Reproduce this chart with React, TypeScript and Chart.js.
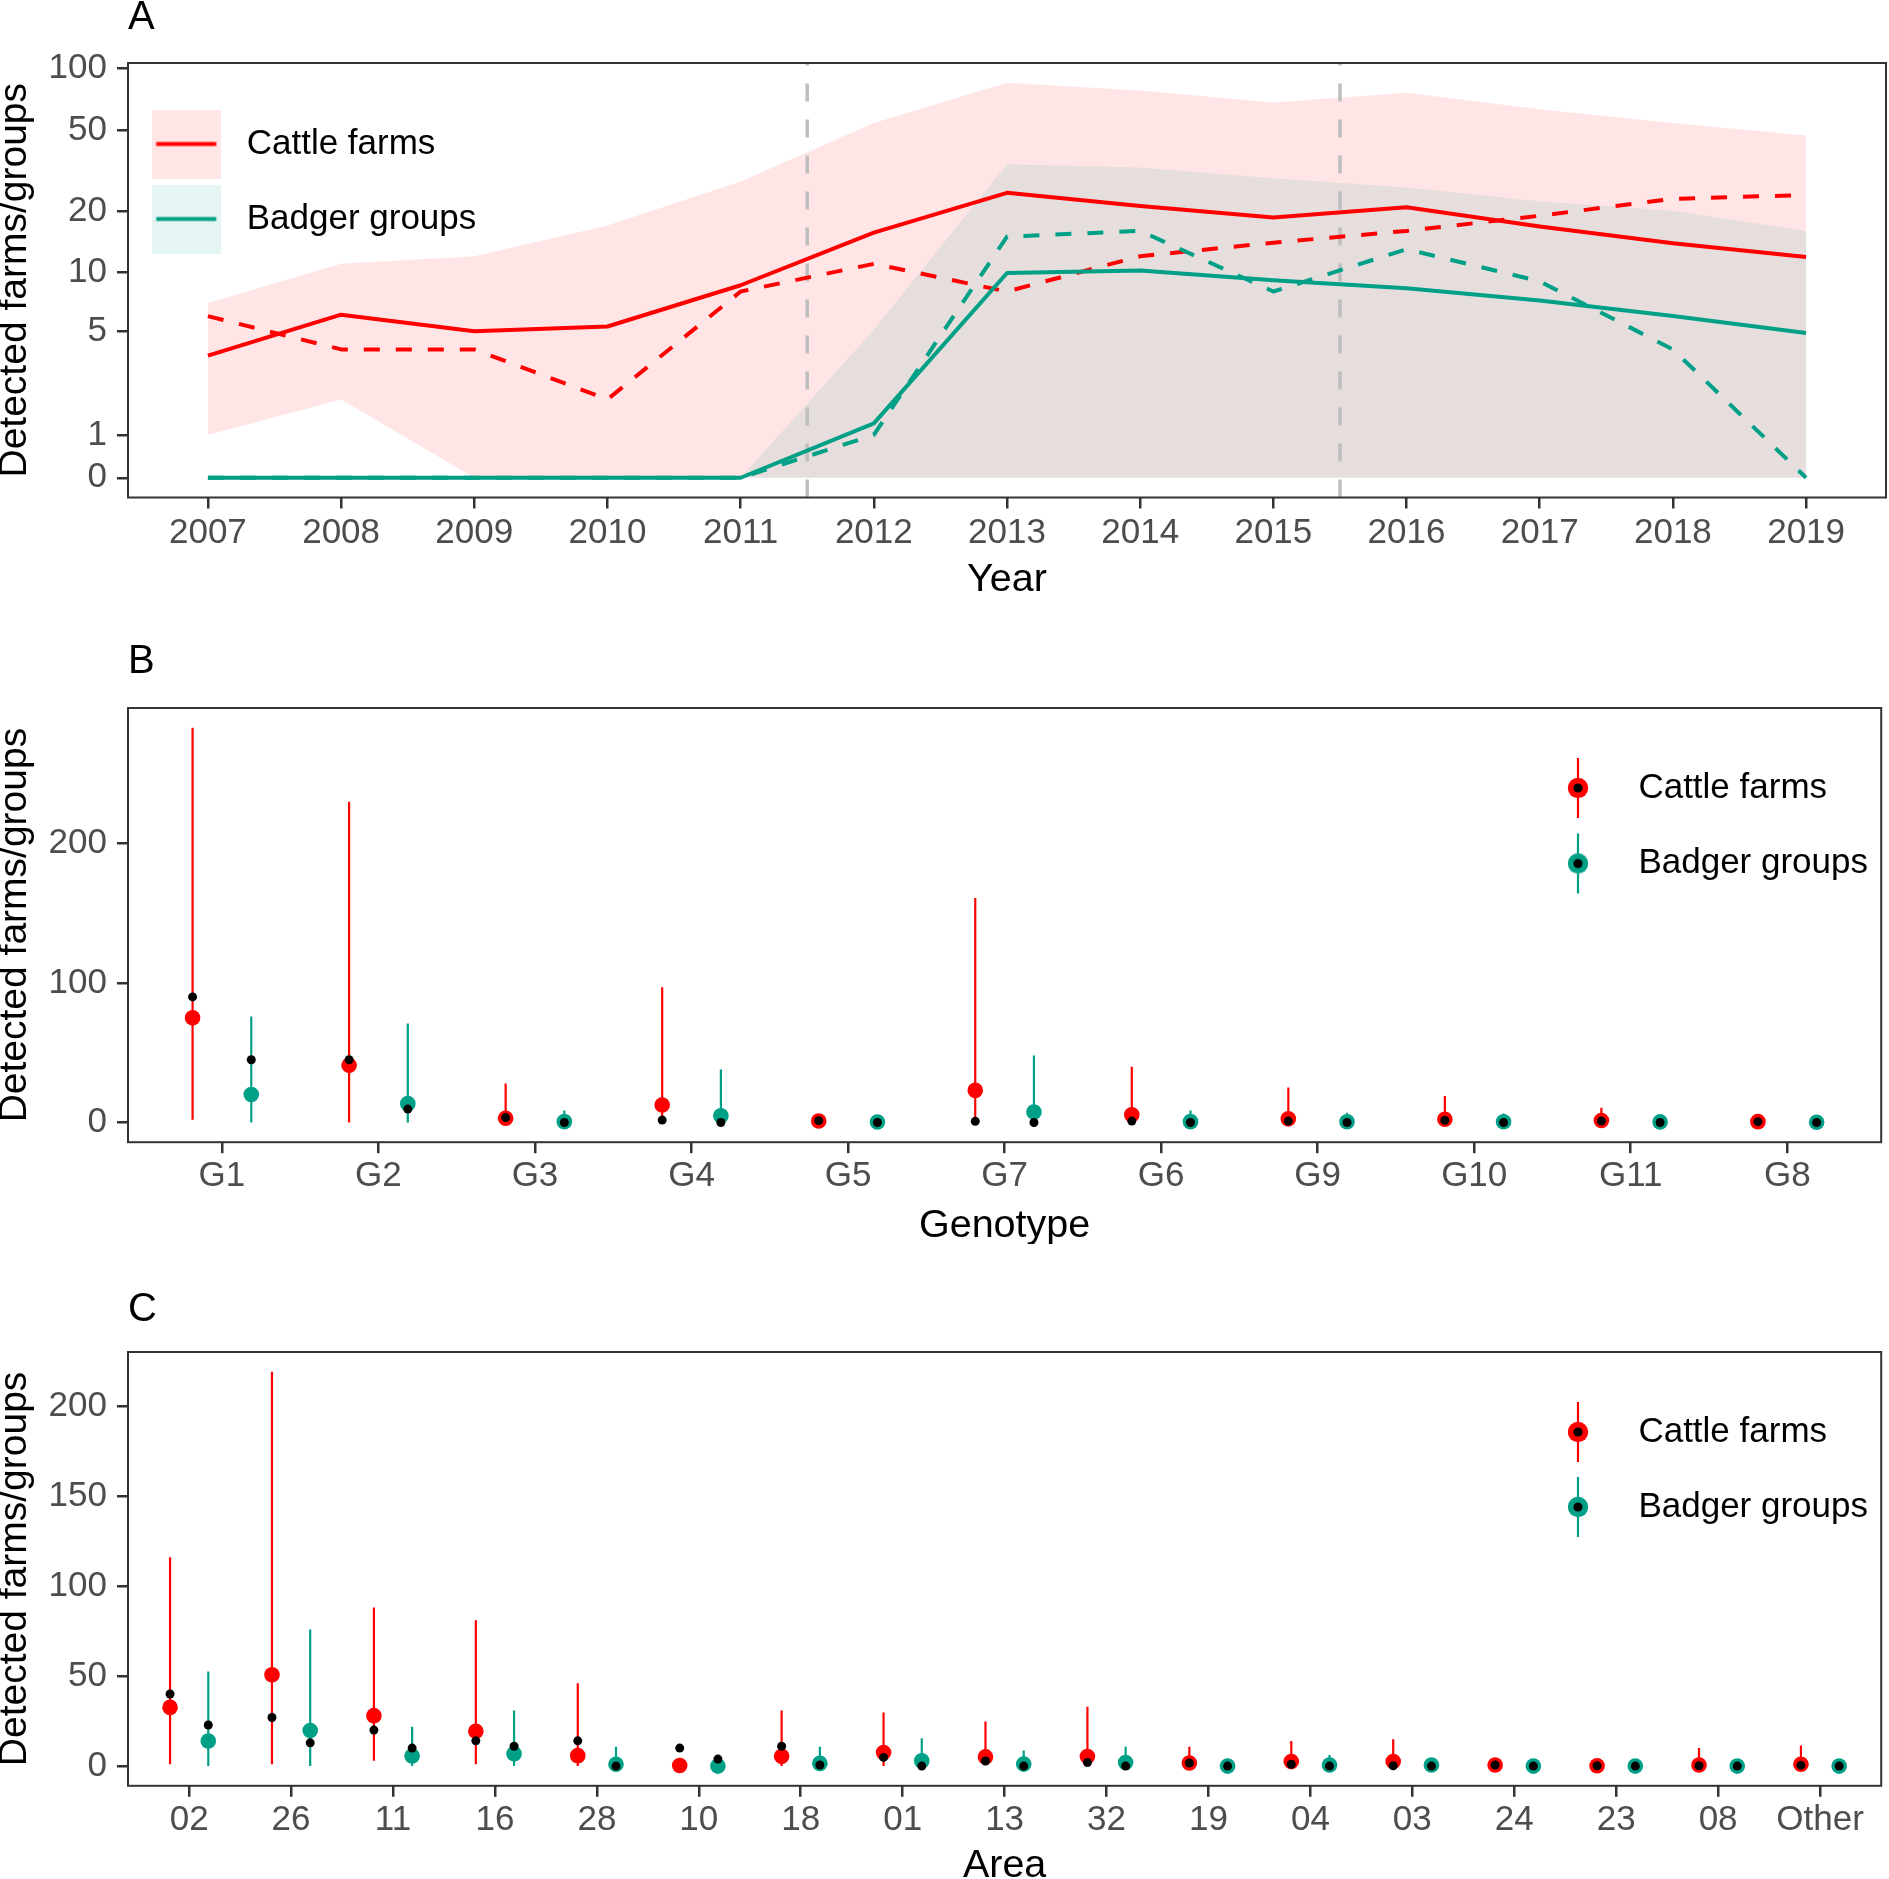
import React, { useEffect, useRef } from 'react';
import { Chart, registerables } from 'chart.js';

Chart.register(...registerables);

const FONT = "'Liberation Sans', Arial, Helvetica, sans-serif";
Chart.defaults.font.family = FONT;

const RED = '#FF0000';
const TEAL = '#00A087';
const RED_FILL = 'rgba(255,0,0,0.1)';
const TEAL_FILL = 'rgba(0,160,135,0.1)';
const FRAME = '#333333';
const TICK_TEXT = '#4D4D4D';
const VLINE = '#BEBEBE';

// ---------------- Panel A data ----------------
const years = [2007, 2008, 2009, 2010, 2011, 2012, 2013, 2014, 2015, 2016, 2017, 2018, 2019];
const cattleModel = [3.7, 6.1, 5.0, 5.3, 8.6, 15.7, 24.6, 21.2, 18.6, 20.9, 16.8, 13.9, 11.9];
const cattleObserved = [6, 4, 4, 2, 8, 11, 8, 12, 14, 16, 19, 23, 24];
const cattleUpper = [7, 11, 12, 17, 28, 54, 85, 78, 68, 76, 63, 54, 47];
const cattleLower = [1, 2, 0, 0, 0, 0, 0, 0, 0, 0, 0, 0, 0];
const badgerModel = [0, 0, 0, 0, 0, 1.3, 9.9, 10.2, 9.1, 8.3, 7.2, 6.0, 4.9];
const badgerObserved = [0, 0, 0, 0, 0, 1, 15, 16, 8, 13, 9, 4, 0];
const badgerUpper = [0, 0, 0, 0, 0, 5.1, 34, 32.7, 29, 26.1, 22.4, 20.1, 16];
const badgerLower = [0, 0, 0, 0, 0, 0, 0, 0, 0, 0, 0, 0, 0];
const yTicksA = [0, 1, 5, 10, 20, 50, 100];
const periodBreaks = [2011.5, 2015.5];

// ---------------- Panel B data ----------------
const genotypes = ['G1', 'G2', 'G3', 'G4', 'G5', 'G7', 'G6', 'G9', 'G10', 'G11', 'G8'];
const cattleMeanB = [75, 41, 3, 12.5, 1, 23, 5.5, 2.6, 2.3, 1.4, 0.6];
const cattleLowB = [2, 0, 1.5, 1.5, 0.6, 1, 1, 0.8, 0.8, 0.6, 0.6];
const cattleHighB = [283, 230, 28, 97, 1.5, 161, 40, 25, 19, 10.5, 1];
const cattleObsB = [90, 45, 3.5, 1.7, 1.3, 0.8, 1, 1, 1.5, 1, 0.6];
const badgerMeanB = [20, 13.5, 0.6, 4.8, 0.3, 7.5, 0.6, 0.5, 0.5, 0.4, 0.2];
const badgerLowB = [0, 0, 0, 0, 0, 0, 0, 0, 0, 0, 0];
const badgerHighB = [76, 71, 8.5, 38, 1, 48, 8.5, 7, 6.5, 2, 0.5];
const badgerObsB = [45, 9.6, 0, 0, 0, 0, 0, 0, 0, 0, 0];
const yTicksB = [0, 100, 200];

// ---------------- Panel C data ----------------
const areas = ['02', '26', '11', '16', '28', '10', '18', '01', '13', '32', '19', '04', '03', '24', '23', '08', 'Other'];
const cattleMeanC = [32.6, 50.7, 28, 19.3, 5.8, 0.3, 5.4, 7.5, 5.1, 5.3, 1.7, 2.5, 2.5, 0.6, 0.2, 0.6, 1];
const cattleLowC = [1, 1, 3, 1, 0, 0, 0, 0, 0.5, 0.5, 0.5, 0, 0, 0.3, 0, 0, 0];
const cattleHighC = [116, 219, 88, 81, 46, 0.5, 30.8, 29.7, 24.8, 33, 10.8, 13.9, 14.9, 1, 0.3, 10, 11.4];
const cattleObsC = [40, 27, 20, 14, 14, 10, 11, 4.8, 2.8, 2, 1.7, 1, 0.2, 0.6, 0.2, 0.2, 0.4];
const badgerMeanC = [13.9, 19.7, 5.6, 6.9, 1, 0, 1.5, 2.9, 1.1, 2, 0, 0.6, 0.6, 0, 0, 0, 0];
const badgerLowC = [0, 0, 0, 0, 0, 0, 0, 0, 0, 0, 0, 0, 0, 0, 0, 0, 0];
const badgerHighC = [52.5, 75.8, 21.8, 30.8, 10.8, 0, 10.7, 15.5, 8.7, 10.7, 0, 6.2, 4, 0, 0, 0, 0];
const badgerObsC = [22.8, 12.9, 10, 11, 0, 3.9, 0.6, 0, 0, 0, 0, 0, 0, 0, 0, 0, 0];
const yTicksC = [0, 50, 100, 150, 200];

const seriesNames = ['Cattle farms', 'Badger groups'];

// ---------------- helpers ----------------
const pseudoLog = (v: number) => Math.asinh(v / 2);
const DODGE = 0.1875;

const tickFont = { family: FONT, size: 35 };
const legendFont = { family: FONT, size: 35 };
const AXIS_TITLE_SIZE = 39.5;

function ribbonKey(color: string, fill: string) {
  const c = document.createElement('canvas');
  c.width = 69;
  c.height = 69;
  const g = c.getContext('2d')!;
  g.fillStyle = fill;
  g.fillRect(0, 0, 69, 69);
  g.strokeStyle = color;
  g.lineWidth = 4;
  g.beginPath();
  g.moveTo(4.5, 34.5);
  g.lineTo(64.5, 34.5);
  g.stroke();
  return c;
}

function pointrangeKey(color: string) {
  const c = document.createElement('canvas');
  c.width = 24;
  c.height = 62;
  const g = c.getContext('2d')!;
  g.strokeStyle = color;
  g.lineWidth = 2.2;
  g.beginPath();
  g.moveTo(12, 1);
  g.lineTo(12, 61);
  g.stroke();
  g.fillStyle = color;
  g.beginPath();
  g.arc(12, 31, 10.2, 0, Math.PI * 2);
  g.fill();
  g.fillStyle = '#000';
  g.beginPath();
  g.arc(12, 31, 4.6, 0, Math.PI * 2);
  g.fill();
  return c;
}

const framePlugin = {
  id: 'panelFrame',
  afterDatasetsDraw(chart: any) {
    const { ctx, chartArea: a } = chart;
    ctx.save();
    ctx.strokeStyle = FRAME;
    ctx.lineWidth = 2;
    ctx.strokeRect(a.left, a.top, a.right - a.left, a.bottom - a.top);
    ctx.restore();
  },
};

function legendPlacer(left: number, top: number) {
  return {
    id: 'legendPlacer',
    afterLayout(chart: any) {
      const lg = chart.legend;
      if (!lg) return;
      lg.left = left;
      lg.top = top;
      lg.right = chart.width;
      lg.bottom = chart.height;
      lg.width = lg.right - left;
      lg.height = lg.bottom - top;
    },
  };
}

function axisGrid() {
  return {
    display: true,
    drawOnChartArea: false,
    drawTicks: true,
    tickLength: 11,
    lineWidth: 2.5,
    tickWidth: 2.5,
    tickColor: FRAME,
    color: FRAME,
  };
}

function panelTitle(text: string, padTop: number, padBottom: number) {
  return {
    display: true,
    text,
    align: 'start',
    fullSize: false,
    color: '#000',
    font: { family: FONT, size: 40, weight: 'normal', lineHeight: 0.9 },
    padding: { top: padTop, bottom: padBottom },
  };
}

const yTitle = {
  display: true,
  text: 'Detected farms/groups',
  color: '#000',
  font: { family: FONT, size: 39, lineHeight: 0.78 },
  padding: { top: 0, bottom: 0 },
};

// ---------------- Panel A config ----------------
function buildA() {
  const toPts = (arr: number[]) => years.map((yr, i) => ({ x: yr, y: pseudoLog(arr[i]) }));
  const maxT = pseudoLog(Math.max(...cattleUpper, ...badgerUpper));
  const yMin = -0.05 * maxT;
  const yMax = 1.05 * maxT;
  const xPad = (years[years.length - 1] - years[0]) * 0.05;
  const hidden = { pointRadius: 0, pointHoverRadius: 0, borderWidth: 0 };
  const datasets: any[] = [
    { label: 'cattleUpper', data: toPts(cattleUpper), fill: '+1', backgroundColor: RED_FILL, borderColor: 'transparent', ...hidden, order: 10 },
    { label: 'cattleLower', data: toPts(cattleLower), fill: false, borderColor: 'transparent', ...hidden, order: 10 },
    { label: 'badgerUpper', data: toPts(badgerUpper), fill: '+1', backgroundColor: TEAL_FILL, borderColor: 'transparent', ...hidden, order: 9 },
    { label: 'badgerLower', data: toPts(badgerLower), fill: false, borderColor: 'transparent', ...hidden, order: 9 },
    ...periodBreaks.map((b) => ({
      label: 'break',
      data: [{ x: b, y: yMin }, { x: b, y: yMax }],
      borderColor: VLINE,
      borderWidth: 3.5,
      borderDash: [18, 18],
      pointRadius: 0,
      fill: false,
      order: 8,
    })),
    { label: 'cattleObserved', data: toPts(cattleObserved), borderColor: RED, borderWidth: 4, borderDash: [16, 16], pointRadius: 0, fill: false, order: 4 },
    { label: 'badgerObserved', data: toPts(badgerObserved), borderColor: TEAL, borderWidth: 4, borderDash: [16, 16], pointRadius: 0, fill: false, order: 3 },
    { label: 'cattleModel', data: toPts(cattleModel), borderColor: RED, borderWidth: 4, pointRadius: 0, fill: false, order: 2 },
    { label: 'badgerModel', data: toPts(badgerModel), borderColor: TEAL, borderWidth: 4, pointRadius: 0, fill: false, order: 1 },
  ];
  return {
    type: 'line',
    data: { datasets },
    plugins: [framePlugin, legendPlacer(103.2, 86.5)],
    options: {
      animation: false,
      responsive: false,
      devicePixelRatio: 1,
      events: [],
      layout: { padding: { left: 0, right: 3, top: 0, bottom: 0 } },
      elements: { line: { tension: 0, borderCapStyle: 'butt', borderJoinStyle: 'round' } },
      plugins: {
        title: panelTitle('A', 0, 27),
        tooltip: { enabled: false },
        legend: {
          display: true,
          position: 'chartArea',
          align: 'start',
          labels: {
            usePointStyle: true,
            pointStyleWidth: 86,
            padding: 40,
            color: '#000',
            font: legendFont,
            generateLabels: () => [
              { text: seriesNames[0], pointStyle: ribbonKey(RED, RED_FILL), fillStyle: RED_FILL, strokeStyle: RED, lineWidth: 0, hidden: false, fontColor: '#000' },
              { text: seriesNames[1], pointStyle: ribbonKey(TEAL, TEAL_FILL), fillStyle: TEAL_FILL, strokeStyle: TEAL, lineWidth: 0, hidden: false, fontColor: '#000' },
            ],
          },
        },
      },
      scales: {
        x: {
          type: 'linear',
          min: years[0] - xPad,
          max: years[years.length - 1] + xPad,
          afterBuildTicks: (s: any) => { s.ticks = years.map((v) => ({ value: v })); },
          afterFit: (s: any) => { s.height = 102.5; },
          ticks: { callback: (v: any) => String(v), color: TICK_TEXT, font: tickFont, padding: 3.5, autoSkip: false, maxRotation: 0, minRotation: 0 },
          grid: axisGrid(),
          border: { display: false },
          title: { display: true, text: 'Year', color: '#000', font: { family: FONT, size: AXIS_TITLE_SIZE, lineHeight: 1.0 }, padding: { top: 0, bottom: 0 } },
        },
        y: {
          type: 'linear',
          min: yMin,
          max: yMax,
          afterBuildTicks: (s: any) => { s.ticks = yTicksA.map((v) => ({ value: pseudoLog(v) })); },
          afterFit: (s: any) => { s.width = 128; },
          ticks: { callback: (_v: any, i: number) => String(yTicksA[i]), color: TICK_TEXT, font: tickFont, padding: 10 },
          grid: axisGrid(),
          border: { display: false },
          title: yTitle,
        },
      },
    },
  };
}

// ---------------- Panels B / C config ----------------
function errorBars(lows: number[], highs: number[], offset: number) {
  return lows.flatMap((lo, i) => [
    { x: i + offset, y: lo },
    { x: i + offset, y: highs[i] },
    { x: i + offset, y: null },
  ]);
}
function dots(vals: number[], offset: number) {
  return vals.map((v, i) => ({ x: i + offset, y: v }));
}

function buildRange(opts: {
  letter: string; letterPad: [number, number]; cats: string[]; yTicks: number[];
  cMean: number[]; cLow: number[]; cHigh: number[]; cObs: number[];
  bMean: number[]; bLow: number[]; bHigh: number[]; bObs: number[];
  xTitle: string; xHeight: number; xTitleLH: number; xTickPad: number;
  legendLeft: number; legendTop: number; legendPad: number;
}) {
  const maxV = Math.max(...opts.cHigh, ...opts.bHigh, ...opts.cObs, ...opts.bObs);
  const yMin = -0.05 * maxV;
  const yMax = 1.05 * maxV;
  const n = opts.cats.length;
  const datasets: any[] = [
    { label: 'cattleRange', data: errorBars(opts.cLow, opts.cHigh, -DODGE), borderColor: RED, borderWidth: 2.2, pointRadius: 0, spanGaps: false, fill: false, order: 3 },
    { label: 'badgerRange', data: errorBars(opts.bLow, opts.bHigh, DODGE), borderColor: TEAL, borderWidth: 2.2, pointRadius: 0, spanGaps: false, fill: false, order: 3 },
    { label: 'cattleMean', data: dots(opts.cMean, -DODGE), showLine: false, pointRadius: 7.8, pointBackgroundColor: RED, pointBorderWidth: 0, borderWidth: 0, order: 2 },
    { label: 'badgerMean', data: dots(opts.bMean, DODGE), showLine: false, pointRadius: 7.8, pointBackgroundColor: TEAL, pointBorderWidth: 0, borderWidth: 0, order: 2 },
    { label: 'cattleObs', data: dots(opts.cObs, -DODGE), showLine: false, pointRadius: 4.5, pointBackgroundColor: '#000', pointBorderWidth: 0, borderWidth: 0, order: 1 },
    { label: 'badgerObs', data: dots(opts.bObs, DODGE), showLine: false, pointRadius: 4.5, pointBackgroundColor: '#000', pointBorderWidth: 0, borderWidth: 0, order: 1 },
  ];
  return {
    type: 'line',
    data: { datasets },
    plugins: [framePlugin, legendPlacer(opts.legendLeft, opts.legendTop)],
    options: {
      animation: false,
      responsive: false,
      devicePixelRatio: 1,
      events: [],
      layout: { padding: { left: 0, right: 3, top: 0, bottom: 0 } },
      elements: { line: { tension: 0, borderCapStyle: 'butt' } },
      plugins: {
        title: panelTitle(opts.letter, opts.letterPad[0], opts.letterPad[1]),
        tooltip: { enabled: false },
        legend: {
          display: true,
          position: 'chartArea',
          align: 'start',
          labels: {
            usePointStyle: true,
            pointStyleWidth: 85.8,
            padding: opts.legendPad,
            color: '#000',
            font: legendFont,
            generateLabels: () => [
              { text: seriesNames[0], pointStyle: pointrangeKey(RED), fillStyle: RED, strokeStyle: RED, lineWidth: 0, hidden: false, fontColor: '#000' },
              { text: seriesNames[1], pointStyle: pointrangeKey(TEAL), fillStyle: TEAL, strokeStyle: TEAL, lineWidth: 0, hidden: false, fontColor: '#000' },
            ],
          },
        },
      },
      scales: {
        x: {
          type: 'linear',
          min: -0.6,
          max: n - 1 + 0.6,
          afterBuildTicks: (s: any) => { s.ticks = opts.cats.map((_c, i) => ({ value: i })); },
          afterFit: (s: any) => { s.height = opts.xHeight; },
          ticks: { callback: (_v: any, i: number) => opts.cats[i], color: TICK_TEXT, font: tickFont, padding: opts.xTickPad, autoSkip: false, maxRotation: 0, minRotation: 0 },
          grid: axisGrid(),
          border: { display: false },
          title: { display: true, text: opts.xTitle, color: '#000', font: { family: FONT, size: AXIS_TITLE_SIZE, lineHeight: opts.xTitleLH }, padding: { top: 0, bottom: 0 } },
        },
        y: {
          type: 'linear',
          min: yMin,
          max: yMax,
          afterBuildTicks: (s: any) => { s.ticks = opts.yTicks.map((v) => ({ value: v })); },
          afterFit: (s: any) => { s.width = 128; },
          ticks: { callback: (_v: any, i: number) => String(opts.yTicks[i]), color: TICK_TEXT, font: tickFont, padding: 10 },
          grid: axisGrid(),
          border: { display: false },
          title: yTitle,
        },
      },
    },
  };
}

function buildB() {
  return buildRange({
    letter: 'B', letterPad: [23.8, 28.2], cats: genotypes, yTicks: yTicksB,
    cMean: cattleMeanB, cLow: cattleLowB, cHigh: cattleHighB, cObs: cattleObsB,
    bMean: badgerMeanB, bLow: badgerLowB, bHigh: badgerHighB, bObs: badgerObsB,
    xTitle: 'Genotype', xHeight: 101.8, xTitleLH: 0.92, xTickPad: 2.6,
    legendLeft: 1494.6, legendTop: 110, legendPad: 40.5,
  });
}

function buildC() {
  return buildRange({
    letter: 'C', letterPad: [48, 24], cats: areas, yTicks: yTicksC,
    cMean: cattleMeanC, cLow: cattleLowC, cHigh: cattleHighC, cObs: cattleObsC,
    bMean: badgerMeanC, bLow: badgerLowC, bHigh: badgerHighC, bObs: badgerObsC,
    xTitle: 'Area', xHeight: 93.2, xTitleLH: 0.63, xTickPad: 2.7,
    legendLeft: 1495.1, legendTop: 130.5, legendPad: 40,
  });
}

function Panel({ top, height, build }: { top: number; height: number; build: () => any }) {
  const ref = useRef<HTMLCanvasElement | null>(null);
  useEffect(() => {
    if (!ref.current) return;
    const chart = new Chart(ref.current, build());
    return () => chart.destroy();
  }, []);
  return (
    <canvas
      ref={ref}
      width={1889}
      height={height}
      style={{ position: 'absolute', left: 0, top, width: 1889, height, display: 'block' }}
    />
  );
}

export default function App() {
  return (
    <div style={{ position: 'absolute', left: 0, top: 0, width: 1889, height: 1879, background: '#fff', overflow: 'hidden' }}>
      <Panel top={0} height={600} build={buildA} />
      <Panel top={620} height={624} build={buildB} />
      <Panel top={1244} height={635} build={buildC} />
    </div>
  );
}
